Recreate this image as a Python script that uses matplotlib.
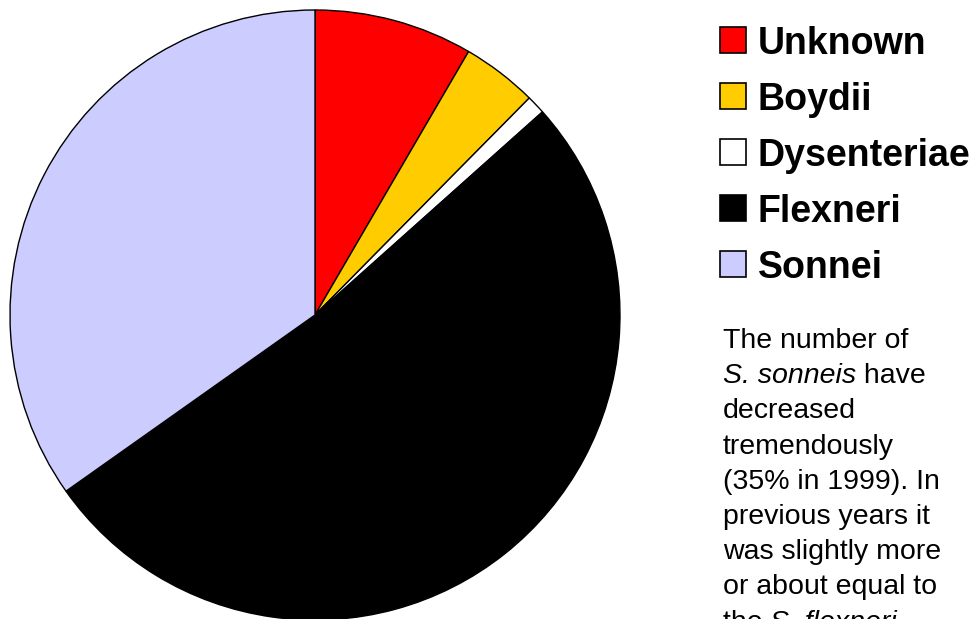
import matplotlib
matplotlib.use("Agg")
import matplotlib.pyplot as plt
import matplotlib.patches as mpatches

plt.rcParams["font.family"] = ["Liberation Sans", "DejaVu Sans"]

# Dados (percentual de isolados em 1999)
especies = ["Unknown", "Boydii", "Dysenteriae", "Flexneri", "Sonnei"]
percentuais = [8.4, 4.0, 1.0, 51.8, 34.8]
cores = ["#FF0000", "#FFCC00", "#FFFFFF", "#000000", "#CCCCFF"]

texto_linhas = [
    [("The number of", "normal")],
    [("S. sonneis", "italic"), (" have", "normal")],
    [("decreased", "normal")],
    [("tremendously", "normal")],
    [("(35% in 1999). In", "normal")],
    [("previous years it", "normal")],
    [("was slightly more", "normal")],
    [("or about equal to", "normal")],
    [("the ", "normal"), ("S. flexneri", "italic"), (".", "normal")],
]

W, H = 977, 619
fig = plt.figure(figsize=(W / 100, H / 100), dpi=100)
ax = fig.add_axes([0, 0, 1, 1])


def py(y):
    """Converte y em pixels (de cima) para coordenada do eixo."""
    return H - y


ax.pie(percentuais, colors=cores, startangle=90, counterclock=False,
       center=(315, py(315)), radius=305, frame=True,
       wedgeprops=dict(edgecolor="black", linewidth=1.0))
ax.set_xlim(0, W)
ax.set_ylim(0, H)
ax.set_aspect("equal")
ax.axis("off")

# Legenda manual
for i, (nome, cor) in enumerate(zip(especies, cores)):
    yc = 40 + i * 56
    ax.add_patch(mpatches.Rectangle((720, py(yc + 13)), 26, 26,
                                    facecolor=cor, edgecolor="black", lw=1.2))
    ax.text(758, py(yc), nome, fontsize=27, weight="bold",
            ha="left", va="center_baseline")

# Texto explicativo (cortado na borda inferior, como no original)
renderer = fig.canvas.get_renderer()
for i, partes in enumerate(texto_linhas):
    x = 723
    y = py(348 + i * 35.2)
    for txt, estilo in partes:
        t = ax.text(x, y, txt, fontsize=20.5, style=estilo,
                    ha="left", va="baseline")
        bb = t.get_window_extent(renderer=renderer)
        x = x + bb.width

fig.savefig("out.png", dpi=100)
